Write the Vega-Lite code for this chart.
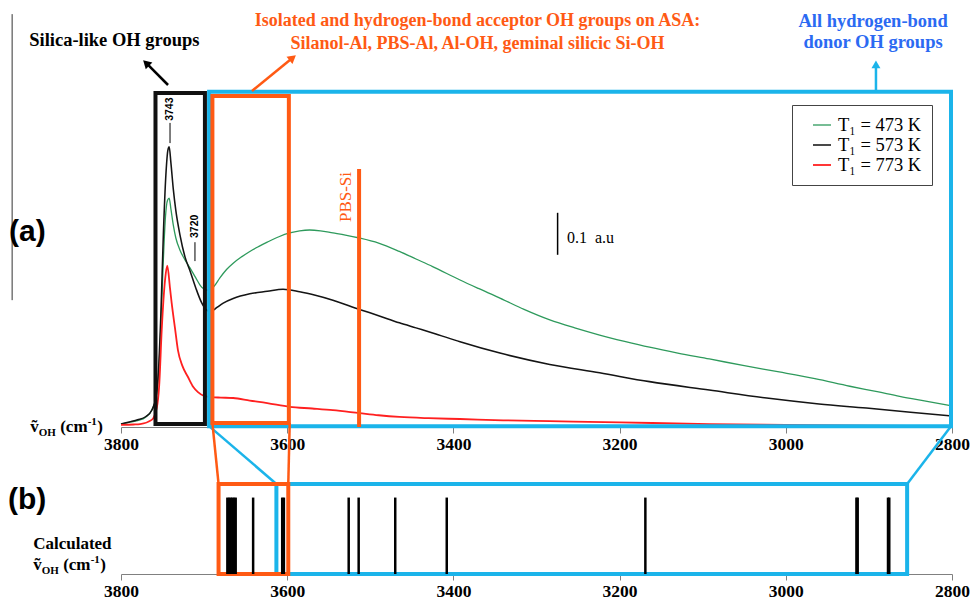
{
  "$schema": "https://vega.github.io/schema/vega-lite/v6.json",
  "width": 831,
  "height": 567,
  "autosize": {"type": "none"},
  "padding": {"left": 121, "top": 7, "right": 23, "bottom": 28},
  "background": "white",
  "config": {
    "view": {"stroke": null},
    "axis": {
      "grid": false,
      "title": null,
      "labelFont": "Liberation Serif",
      "labelFontWeight": "bold",
      "labelFontSize": 17.5,
      "labelColor": "#000000",
      "labelFlush": false,
      "labelOverlap": false,
      "tickColor": "#808080",
      "domainColor": "#808080",
      "tickSize": 6,
      "labelPadding": 2
    }
  },
  "datasets": {
    "spectra": [
      {"T": "473", "wn": 3800, "a": 0.007}, {"T": "473", "wn": 3790, "a": 0.011}, {"T": "473", "wn": 3780, "a": 0.015},
      {"T": "473", "wn": 3770, "a": 0.024}, {"T": "473", "wn": 3763, "a": 0.04}, {"T": "473", "wn": 3758, "a": 0.068},
      {"T": "473", "wn": 3755, "a": 0.12}, {"T": "473", "wn": 3752, "a": 0.24}, {"T": "473", "wn": 3749, "a": 0.4},
      {"T": "473", "wn": 3746.5, "a": 0.5}, {"T": "473", "wn": 3744, "a": 0.54}, {"T": "473", "wn": 3742, "a": 0.545},
      {"T": "473", "wn": 3740, "a": 0.52}, {"T": "473", "wn": 3737, "a": 0.48}, {"T": "473", "wn": 3734, "a": 0.45},
      {"T": "473", "wn": 3729, "a": 0.421}, {"T": "473", "wn": 3723, "a": 0.398}, {"T": "473", "wn": 3717, "a": 0.379},
      {"T": "473", "wn": 3710, "a": 0.355}, {"T": "473", "wn": 3703, "a": 0.333}, {"T": "473", "wn": 3697, "a": 0.326},
      {"T": "473", "wn": 3693, "a": 0.327}, {"T": "473", "wn": 3688, "a": 0.335}, {"T": "473", "wn": 3681, "a": 0.355},
      {"T": "473", "wn": 3673, "a": 0.375}, {"T": "473", "wn": 3665, "a": 0.39}, {"T": "473", "wn": 3655, "a": 0.405},
      {"T": "473", "wn": 3645, "a": 0.418}, {"T": "473", "wn": 3634, "a": 0.43}, {"T": "473", "wn": 3624, "a": 0.44},
      {"T": "473", "wn": 3610, "a": 0.453}, {"T": "473", "wn": 3597, "a": 0.462}, {"T": "473", "wn": 3585, "a": 0.467},
      {"T": "473", "wn": 3573, "a": 0.469}, {"T": "473", "wn": 3560, "a": 0.467}, {"T": "473", "wn": 3545, "a": 0.462},
      {"T": "473", "wn": 3530, "a": 0.457}, {"T": "473", "wn": 3513, "a": 0.45}, {"T": "473", "wn": 3490, "a": 0.438},
      {"T": "473", "wn": 3465, "a": 0.418}, {"T": "473", "wn": 3445, "a": 0.4}, {"T": "473", "wn": 3425, "a": 0.382},
      {"T": "473", "wn": 3392, "a": 0.35}, {"T": "473", "wn": 3370, "a": 0.33}, {"T": "473", "wn": 3344, "a": 0.307},
      {"T": "473", "wn": 3315, "a": 0.28}, {"T": "473", "wn": 3284, "a": 0.255}, {"T": "473", "wn": 3254, "a": 0.236},
      {"T": "473", "wn": 3224, "a": 0.219}, {"T": "473", "wn": 3194, "a": 0.204}, {"T": "473", "wn": 3164, "a": 0.19},
      {"T": "473", "wn": 3130, "a": 0.176}, {"T": "473", "wn": 3092, "a": 0.162}, {"T": "473", "wn": 3050, "a": 0.146},
      {"T": "473", "wn": 3008, "a": 0.131}, {"T": "473", "wn": 2965, "a": 0.115}, {"T": "473", "wn": 2923, "a": 0.097},
      {"T": "473", "wn": 2890, "a": 0.084}, {"T": "473", "wn": 2863, "a": 0.073}, {"T": "473", "wn": 2830, "a": 0.061},
      {"T": "473", "wn": 2800, "a": 0.05},

      {"T": "573", "wn": 3800, "a": 0.007}, {"T": "573", "wn": 3790, "a": 0.012}, {"T": "573", "wn": 3780, "a": 0.017},
      {"T": "573", "wn": 3770, "a": 0.025}, {"T": "573", "wn": 3763, "a": 0.04}, {"T": "573", "wn": 3758, "a": 0.07},
      {"T": "573", "wn": 3755, "a": 0.13}, {"T": "573", "wn": 3752, "a": 0.27}, {"T": "573", "wn": 3749, "a": 0.46},
      {"T": "573", "wn": 3746, "a": 0.6}, {"T": "573", "wn": 3743.5, "a": 0.66}, {"T": "573", "wn": 3742, "a": 0.667},
      {"T": "573", "wn": 3740, "a": 0.63}, {"T": "573", "wn": 3737, "a": 0.565}, {"T": "573", "wn": 3734, "a": 0.515},
      {"T": "573", "wn": 3729, "a": 0.457}, {"T": "573", "wn": 3723, "a": 0.405}, {"T": "573", "wn": 3717, "a": 0.372},
      {"T": "573", "wn": 3710, "a": 0.331}, {"T": "573", "wn": 3703, "a": 0.296}, {"T": "573", "wn": 3698, "a": 0.28},
      {"T": "573", "wn": 3694, "a": 0.276}, {"T": "573", "wn": 3690, "a": 0.277}, {"T": "573", "wn": 3685, "a": 0.284},
      {"T": "573", "wn": 3677, "a": 0.295}, {"T": "573", "wn": 3665, "a": 0.306}, {"T": "573", "wn": 3645, "a": 0.317},
      {"T": "573", "wn": 3624, "a": 0.323}, {"T": "573", "wn": 3605, "a": 0.328}, {"T": "573", "wn": 3585, "a": 0.322},
      {"T": "573", "wn": 3565, "a": 0.313}, {"T": "573", "wn": 3545, "a": 0.302}, {"T": "573", "wn": 3513, "a": 0.28},
      {"T": "573", "wn": 3490, "a": 0.265}, {"T": "573", "wn": 3465, "a": 0.248}, {"T": "573", "wn": 3445, "a": 0.236},
      {"T": "573", "wn": 3425, "a": 0.224}, {"T": "573", "wn": 3392, "a": 0.203}, {"T": "573", "wn": 3344, "a": 0.176},
      {"T": "573", "wn": 3284, "a": 0.149}, {"T": "573", "wn": 3224, "a": 0.129}, {"T": "573", "wn": 3164, "a": 0.108},
      {"T": "573", "wn": 3092, "a": 0.088}, {"T": "573", "wn": 3023, "a": 0.069}, {"T": "573", "wn": 2960, "a": 0.055},
      {"T": "573", "wn": 2903, "a": 0.045}, {"T": "573", "wn": 2850, "a": 0.035}, {"T": "573", "wn": 2800, "a": 0.026},

      {"T": "773", "wn": 3800, "a": 0.005}, {"T": "773", "wn": 3785, "a": 0.006}, {"T": "773", "wn": 3777, "a": 0.007},
      {"T": "773", "wn": 3763, "a": 0.017}, {"T": "773", "wn": 3757, "a": 0.045}, {"T": "773", "wn": 3754, "a": 0.1},
      {"T": "773", "wn": 3751, "a": 0.231}, {"T": "773", "wn": 3747, "a": 0.35}, {"T": "773", "wn": 3744.3, "a": 0.384},
      {"T": "773", "wn": 3741, "a": 0.33}, {"T": "773", "wn": 3739, "a": 0.295}, {"T": "773", "wn": 3735, "a": 0.235},
      {"T": "773", "wn": 3731.5, "a": 0.183}, {"T": "773", "wn": 3726, "a": 0.145}, {"T": "773", "wn": 3719.4, "a": 0.119},
      {"T": "773", "wn": 3713, "a": 0.095}, {"T": "773", "wn": 3707.4, "a": 0.083}, {"T": "773", "wn": 3700, "a": 0.074},
      {"T": "773", "wn": 3691, "a": 0.071}, {"T": "773", "wn": 3680, "a": 0.07}, {"T": "773", "wn": 3665, "a": 0.069},
      {"T": "773", "wn": 3645, "a": 0.063}, {"T": "773", "wn": 3624, "a": 0.057}, {"T": "773", "wn": 3597, "a": 0.048},
      {"T": "773", "wn": 3570, "a": 0.044}, {"T": "773", "wn": 3545, "a": 0.04}, {"T": "773", "wn": 3513, "a": 0.033},
      {"T": "773", "wn": 3490, "a": 0.028}, {"T": "773", "wn": 3465, "a": 0.024}, {"T": "773", "wn": 3430, "a": 0.021},
      {"T": "773", "wn": 3392, "a": 0.019}, {"T": "773", "wn": 3340, "a": 0.016}, {"T": "773", "wn": 3284, "a": 0.014},
      {"T": "773", "wn": 3200, "a": 0.011}, {"T": "773", "wn": 3092, "a": 0.007}, {"T": "773", "wn": 3000, "a": 0.005},
      {"T": "773", "wn": 2900, "a": 0.003}, {"T": "773", "wn": 2800, "a": 0.002}
    ],
    "sticks": [
      {"wn": 3672}, {"wn": 3670}, {"wn": 3668}, {"wn": 3666}, {"wn": 3664}, {"wn": 3662},
      {"wn": 3641}, {"wn": 3606}, {"wn": 3604}, {"wn": 3526}, {"wn": 3514}, {"wn": 3470},
      {"wn": 3408}, {"wn": 3169}, {"wn": 2915}, {"wn": 2913.5}, {"wn": 2877}, {"wn": 2875.5}
    ],
    "boxes": [
      {"box": "silica", "x1": 3758.5, "x2": 3699, "y1": 0.007, "y2": 0.795},
      {"box": "donor", "x1": 3694, "x2": 2801.2, "y1": 0.002, "y2": 0.798},
      {"box": "acceptor", "x1": 3690, "x2": 3598, "y1": 0.0095, "y2": 0.788},
      {"box": "donor-calc", "x1": 3613, "x2": 2854, "y1": -0.35, "y2": -0.1357},
      {"box": "acceptor-calc", "x1": 3682.6, "x2": 3598.7, "y1": -0.35, "y2": -0.1357}
    ],
    "links": [
      {"grp": "acceptor", "x1": 3690, "y1": 0.0095, "x2": 3682.6, "y2": -0.1357},
      {"grp": "acceptor", "x1": 3597, "y1": 0.0095, "x2": 3598.7, "y2": -0.1357},
      {"grp": "donor", "x1": 3694, "y1": 0.002, "x2": 3613, "y2": -0.1357},
      {"grp": "donor", "x1": 2801.2, "y1": 0.002, "x2": 2854, "y2": -0.1357}
    ]
  },
  "resolve": {"axis": {"x": "independent"}},
  "layer": [
    {
      "data": {"values": [{}]},
      "mark": {"type": "rule", "stroke": "#333333", "strokeWidth": 1},
      "encoding": {
        "x": {"datum": 3931, "type": "quantitative", "axis": null},
        "y": {"datum": 0.983, "type": "quantitative", "axis": null},
        "y2": {"datum": 0.302}
      }
    },
    {
      "data": {"name": "spectra"},
      "mark": {"type": "line", "interpolate": "monotone"},
      "encoding": {
        "x": {
          "field": "wn", "type": "quantitative",
          "scale": {"domain": [3800, 2800], "nice": false, "zero": false},
          "axis": {"orient": "bottom", "offset": -147, "values": [3800, 3600, 3400, 3200, 3000, 2800], "format": "d"}
        },
        "y": {
          "field": "a", "type": "quantitative",
          "scale": {"domain": [-0.35, 1.0], "nice": false, "zero": false},
          "axis": null
        },
        "color": {
          "field": "T", "type": "nominal",
          "scale": {"domain": ["473", "573", "773"], "range": ["#2e9a5c", "#141414", "#ff2020"]},
          "legend": {
            "title": null,
            "orient": "none",
            "legendX": 671,
            "legendY": 98,
            "labelExpr": "'T₁ = ' + datum.label + ' K'",
            "labelFont": "Liberation Serif",
            "labelFontSize": 18.5,
            "labelColor": "#000000",
            "symbolType": "stroke",
            "symbolSize": 324,
            "symbolStrokeWidth": 2.5,
            "symbolOffset": 10,
            "labelOffset": 6,
            "padding": 10,
            "rowPadding": 0,
            "strokeColor": "#444444",
            "fillColor": "white"
          }
        },
        "strokeWidth": {
          "field": "T", "type": "nominal",
          "scale": {"domain": ["473", "573", "773"], "range": [1.3, 1.8, 1.3]},
          "legend": null
        }
      }
    },
    {
      "data": {"name": "boxes"},
      "transform": [{"filter": "datum.box === 'silica'"}],
      "mark": {"type": "rect", "filled": false, "stroke": "#111111", "strokeWidth": 4},
      "encoding": {
        "x": {"field": "x1", "type": "quantitative", "axis": null},
        "x2": {"field": "x2"},
        "y": {"field": "y1", "type": "quantitative", "axis": null},
        "y2": {"field": "y2"}
      }
    },
    {
      "data": {"name": "boxes"},
      "transform": [{"filter": "datum.box === 'donor' || datum.box === 'donor-calc'"}],
      "mark": {"type": "rect", "filled": false, "stroke": "#1bb4ea", "strokeWidth": 4},
      "encoding": {
        "x": {"field": "x1", "type": "quantitative", "axis": null},
        "x2": {"field": "x2"},
        "y": {"field": "y1", "type": "quantitative", "axis": null},
        "y2": {"field": "y2"}
      }
    },
    {
      "data": {"name": "links"},
      "transform": [{"filter": "datum.grp === 'donor'"}],
      "mark": {"type": "rule", "stroke": "#1bb4ea", "strokeWidth": 2.5},
      "encoding": {
        "x": {"field": "x1", "type": "quantitative", "axis": null},
        "x2": {"field": "x2"},
        "y": {"field": "y1", "type": "quantitative", "axis": null},
        "y2": {"field": "y2"}
      }
    },
    {
      "data": {"name": "boxes"},
      "transform": [{"filter": "datum.box === 'acceptor' || datum.box === 'acceptor-calc'"}],
      "mark": {"type": "rect", "filled": false, "stroke": "#ff5a14", "strokeWidth": 4},
      "encoding": {
        "x": {"field": "x1", "type": "quantitative", "axis": null},
        "x2": {"field": "x2"},
        "y": {"field": "y1", "type": "quantitative", "axis": null},
        "y2": {"field": "y2"}
      }
    },
    {
      "data": {"name": "links"},
      "transform": [{"filter": "datum.grp === 'acceptor'"}],
      "mark": {"type": "rule", "stroke": "#ff5a14", "strokeWidth": 2.5},
      "encoding": {
        "x": {"field": "x1", "type": "quantitative", "axis": null},
        "x2": {"field": "x2"},
        "y": {"field": "y1", "type": "quantitative", "axis": null},
        "y2": {"field": "y2"}
      }
    },
    {
      "data": {"name": "sticks"},
      "mark": {"type": "rule", "stroke": "#000000", "strokeWidth": 2.5},
      "encoding": {
        "x": {
          "field": "wn", "type": "quantitative",
          "axis": {"orient": "bottom", "offset": 0, "values": [3800, 3600, 3400, 3200, 3000, 2800], "format": "d"}
        },
        "y": {"datum": -0.35, "type": "quantitative", "axis": null},
        "y2": {"datum": -0.168}
      }
    },
    {
      "data": {"values": [{}]},
      "mark": {"type": "rule", "stroke": "#ff5a14", "strokeWidth": 4},
      "encoding": {
        "x": {"datum": 3513.5, "type": "quantitative", "axis": null},
        "y": {"datum": 0, "type": "quantitative", "axis": null},
        "y2": {"datum": 0.614}
      }
    },
    {
      "data": {"values": [{}]},
      "mark": {"type": "text", "text": "PBS-Si", "font": "Liberation Serif", "fontSize": 17, "color": "#ff5a14", "angle": 270, "align": "left", "baseline": "bottom", "dy": -4},
      "encoding": {
        "x": {"datum": 3513.5, "type": "quantitative", "axis": null},
        "y": {"datum": 0.488, "type": "quantitative", "axis": null}
      }
    },
    {
      "data": {"values": [{}]},
      "mark": {"type": "rule", "stroke": "#000000", "strokeWidth": 1.5},
      "encoding": {
        "x": {"datum": 3274.6, "type": "quantitative", "axis": null},
        "y": {"datum": 0.41, "type": "quantitative", "axis": null},
        "y2": {"datum": 0.51}
      }
    },
    {
      "data": {"values": [{}]},
      "mark": {"type": "text", "text": "0.1\u00a0\u00a0a.u", "font": "Liberation Serif", "fontSize": 16, "color": "#000000", "align": "left", "baseline": "alphabetic"},
      "encoding": {
        "x": {"datum": 3263.3, "type": "quantitative", "axis": null},
        "y": {"datum": 0.438, "type": "quantitative", "axis": null}
      }
    },
    {
      "data": {"values": [{}]},
      "mark": {"type": "rule", "stroke": "#000000", "strokeWidth": 1},
      "encoding": {
        "x": {"datum": 3741, "type": "quantitative", "axis": null},
        "y": {"datum": 0.676, "type": "quantitative", "axis": null},
        "y2": {"datum": 0.724}
      }
    },
    {
      "data": {"values": [{}]},
      "mark": {"type": "text", "text": "3743", "font": "Liberation Sans", "fontWeight": "bold", "fontSize": 10.5, "color": "#000000", "angle": 270, "align": "left", "baseline": "middle"},
      "encoding": {
        "x": {"datum": 3741, "type": "quantitative", "axis": null},
        "y": {"datum": 0.729, "type": "quantitative", "axis": null}
      }
    },
    {
      "data": {"values": [{}]},
      "mark": {"type": "rule", "stroke": "#000000", "strokeWidth": 1},
      "encoding": {
        "x": {"datum": 3711, "type": "quantitative", "axis": null},
        "y": {"datum": 0.395, "type": "quantitative", "axis": null},
        "y2": {"datum": 0.44}
      }
    },
    {
      "data": {"values": [{}]},
      "mark": {"type": "text", "text": "3720", "font": "Liberation Sans", "fontWeight": "bold", "fontSize": 10.5, "color": "#000000", "angle": 270, "align": "left", "baseline": "middle"},
      "encoding": {
        "x": {"datum": 3711, "type": "quantitative", "axis": null},
        "y": {"datum": 0.45, "type": "quantitative", "axis": null}
      }
    },
    {
      "data": {"values": [{}]},
      "mark": {"type": "text", "text": "Silica-like OH groups", "font": "Liberation Serif", "fontWeight": "bold", "fontSize": 18.5, "color": "#000000", "align": "center", "baseline": "alphabetic"},
      "encoding": {
        "x": {"datum": 3808, "type": "quantitative", "axis": null},
        "y": {"datum": 0.906, "type": "quantitative", "axis": null}
      }
    },
    {
      "data": {"values": [{}]},
      "mark": {"type": "rule", "stroke": "#000000", "strokeWidth": 2.5},
      "encoding": {
        "x": {"datum": 3743.4, "type": "quantitative", "axis": null},
        "x2": {"datum": 3769.8},
        "y": {"datum": 0.8143, "type": "quantitative", "axis": null},
        "y2": {"datum": 0.8667}
      }
    },
    {
      "data": {"values": [{}]},
      "mark": {"type": "point", "shape": "triangle-up", "filled": true, "color": "#000000", "size": 90, "angle": 314, "opacity": 1},
      "encoding": {
        "x": {"datum": 3769.8, "type": "quantitative", "axis": null},
        "y": {"datum": 0.8667, "type": "quantitative", "axis": null}
      }
    },
    {
      "data": {"values": [{}]},
      "mark": {"type": "text", "text": "Isolated and hydrogen-bond acceptor OH groups on ASA:\nSilanol-Al, PBS-Al, Al-OH, geminal silicic Si-OH", "lineBreak": "\n", "lineHeight": 23, "font": "Liberation Serif", "fontWeight": "bold", "fontSize": 18, "color": "#ff5a14", "align": "center", "baseline": "alphabetic"},
      "encoding": {
        "x": {"datum": 3371, "type": "quantitative", "axis": null},
        "y": {"datum": 0.954, "type": "quantitative", "axis": null}
      }
    },
    {
      "data": {"values": [{}]},
      "mark": {"type": "rule", "stroke": "#ff5a14", "strokeWidth": 2.5},
      "encoding": {
        "x": {"datum": 3642.4, "type": "quantitative", "axis": null},
        "x2": {"datum": 3593.4},
        "y": {"datum": 0.8, "type": "quantitative", "axis": null},
        "y2": {"datum": 0.879}
      }
    },
    {
      "data": {"values": [{}]},
      "mark": {"type": "point", "shape": "triangle-up", "filled": true, "color": "#ff5a14", "size": 90, "angle": 51, "opacity": 1},
      "encoding": {
        "x": {"datum": 3593.4, "type": "quantitative", "axis": null},
        "y": {"datum": 0.879, "type": "quantitative", "axis": null}
      }
    },
    {
      "data": {"values": [{}]},
      "mark": {"type": "text", "text": "All hydrogen-bond\ndonor OH groups", "lineBreak": "\n", "lineHeight": 21, "font": "Liberation Serif", "fontWeight": "bold", "fontSize": 18.5, "color": "#2b6af2", "align": "center", "baseline": "alphabetic"},
      "encoding": {
        "x": {"datum": 2895, "type": "quantitative", "axis": null},
        "y": {"datum": 0.9512, "type": "quantitative", "axis": null}
      }
    },
    {
      "data": {"values": [{}]},
      "mark": {"type": "rule", "stroke": "#1bb4ea", "strokeWidth": 2.5},
      "encoding": {
        "x": {"datum": 2891.5, "type": "quantitative", "axis": null},
        "y": {"datum": 0.798, "type": "quantitative", "axis": null},
        "y2": {"datum": 0.8636}
      }
    },
    {
      "data": {"values": [{}]},
      "mark": {"type": "point", "shape": "triangle-up", "filled": true, "color": "#1bb4ea", "size": 80, "angle": 0, "opacity": 1},
      "encoding": {
        "x": {"datum": 2891.5, "type": "quantitative", "axis": null},
        "y": {"datum": 0.8636, "type": "quantitative", "axis": null}
      }
    },
    {
      "data": {"values": [{}]},
      "mark": {"type": "text", "text": "(a)", "font": "Liberation Sans", "fontWeight": "bold", "fontSize": 30, "color": "#000000", "align": "left", "baseline": "alphabetic"},
      "encoding": {
        "x": {"datum": 3934.8, "type": "quantitative", "axis": null},
        "y": {"datum": 0.443, "type": "quantitative", "axis": null}
      }
    },
    {
      "data": {"values": [{}]},
      "mark": {"type": "text", "text": "(b)", "font": "Liberation Sans", "fontWeight": "bold", "fontSize": 30, "color": "#000000", "align": "left", "baseline": "alphabetic"},
      "encoding": {
        "x": {"datum": 3936, "type": "quantitative", "axis": null},
        "y": {"datum": -0.195, "type": "quantitative", "axis": null}
      }
    },
    {
      "data": {"values": [{}]},
      "mark": {"type": "text", "text": "ṽ", "font": "Liberation Serif", "fontWeight": "bold", "fontSize": 17, "color": "#000000", "align": "left", "baseline": "alphabetic"},
      "encoding": {
        "x": {"datum": 3909.3, "type": "quantitative", "axis": null},
        "y": {"datum": -0.0119, "type": "quantitative", "axis": null}
      }
    },
    {
      "data": {"values": [{}]},
      "mark": {"type": "text", "text": "OH", "font": "Liberation Serif", "fontWeight": "bold", "fontSize": 11, "color": "#000000", "align": "left", "baseline": "alphabetic", "dx": 8.5, "dy": 4},
      "encoding": {
        "x": {"datum": 3909.3, "type": "quantitative", "axis": null},
        "y": {"datum": -0.0119, "type": "quantitative", "axis": null}
      }
    },
    {
      "data": {"values": [{}]},
      "mark": {"type": "text", "text": "(cm", "font": "Liberation Serif", "fontWeight": "bold", "fontSize": 17, "color": "#000000", "align": "left", "baseline": "alphabetic", "dx": 30},
      "encoding": {
        "x": {"datum": 3909.3, "type": "quantitative", "axis": null},
        "y": {"datum": -0.0119, "type": "quantitative", "axis": null}
      }
    },
    {
      "data": {"values": [{}]},
      "mark": {"type": "text", "text": "-1", "font": "Liberation Serif", "fontWeight": "bold", "fontSize": 11, "color": "#000000", "align": "left", "baseline": "alphabetic", "dx": 57.5, "dy": -7},
      "encoding": {
        "x": {"datum": 3909.3, "type": "quantitative", "axis": null},
        "y": {"datum": -0.0119, "type": "quantitative", "axis": null}
      }
    },
    {
      "data": {"values": [{}]},
      "mark": {"type": "text", "text": ")", "font": "Liberation Serif", "fontWeight": "bold", "fontSize": 17, "color": "#000000", "align": "left", "baseline": "alphabetic", "dx": 67},
      "encoding": {
        "x": {"datum": 3909.3, "type": "quantitative", "axis": null},
        "y": {"datum": -0.0119, "type": "quantitative", "axis": null}
      }
    },
    {
      "data": {"values": [{}]},
      "mark": {"type": "text", "text": "Calculated", "font": "Liberation Serif", "fontWeight": "bold", "fontSize": 17, "color": "#000000", "align": "left", "baseline": "alphabetic"},
      "encoding": {
        "x": {"datum": 3905.7, "type": "quantitative", "axis": null},
        "y": {"datum": -0.2905, "type": "quantitative", "axis": null}
      }
    },
    {
      "data": {"values": [{}]},
      "mark": {"type": "text", "text": "ṽ", "font": "Liberation Serif", "fontWeight": "bold", "fontSize": 17, "color": "#000000", "align": "left", "baseline": "alphabetic"},
      "encoding": {
        "x": {"datum": 3905.7, "type": "quantitative", "axis": null},
        "y": {"datum": -0.3405, "type": "quantitative", "axis": null}
      }
    },
    {
      "data": {"values": [{}]},
      "mark": {"type": "text", "text": "OH", "font": "Liberation Serif", "fontWeight": "bold", "fontSize": 11, "color": "#000000", "align": "left", "baseline": "alphabetic", "dx": 8.5, "dy": 4},
      "encoding": {
        "x": {"datum": 3905.7, "type": "quantitative", "axis": null},
        "y": {"datum": -0.3405, "type": "quantitative", "axis": null}
      }
    },
    {
      "data": {"values": [{}]},
      "mark": {"type": "text", "text": "(cm", "font": "Liberation Serif", "fontWeight": "bold", "fontSize": 17, "color": "#000000", "align": "left", "baseline": "alphabetic", "dx": 30},
      "encoding": {
        "x": {"datum": 3905.7, "type": "quantitative", "axis": null},
        "y": {"datum": -0.3405, "type": "quantitative", "axis": null}
      }
    },
    {
      "data": {"values": [{}]},
      "mark": {"type": "text", "text": "-1", "font": "Liberation Serif", "fontWeight": "bold", "fontSize": 11, "color": "#000000", "align": "left", "baseline": "alphabetic", "dx": 57.5, "dy": -7},
      "encoding": {
        "x": {"datum": 3905.7, "type": "quantitative", "axis": null},
        "y": {"datum": -0.3405, "type": "quantitative", "axis": null}
      }
    },
    {
      "data": {"values": [{}]},
      "mark": {"type": "text", "text": ")", "font": "Liberation Serif", "fontWeight": "bold", "fontSize": 17, "color": "#000000", "align": "left", "baseline": "alphabetic", "dx": 67},
      "encoding": {
        "x": {"datum": 3905.7, "type": "quantitative", "axis": null},
        "y": {"datum": -0.3405, "type": "quantitative", "axis": null}
      }
    }
  ]
}
